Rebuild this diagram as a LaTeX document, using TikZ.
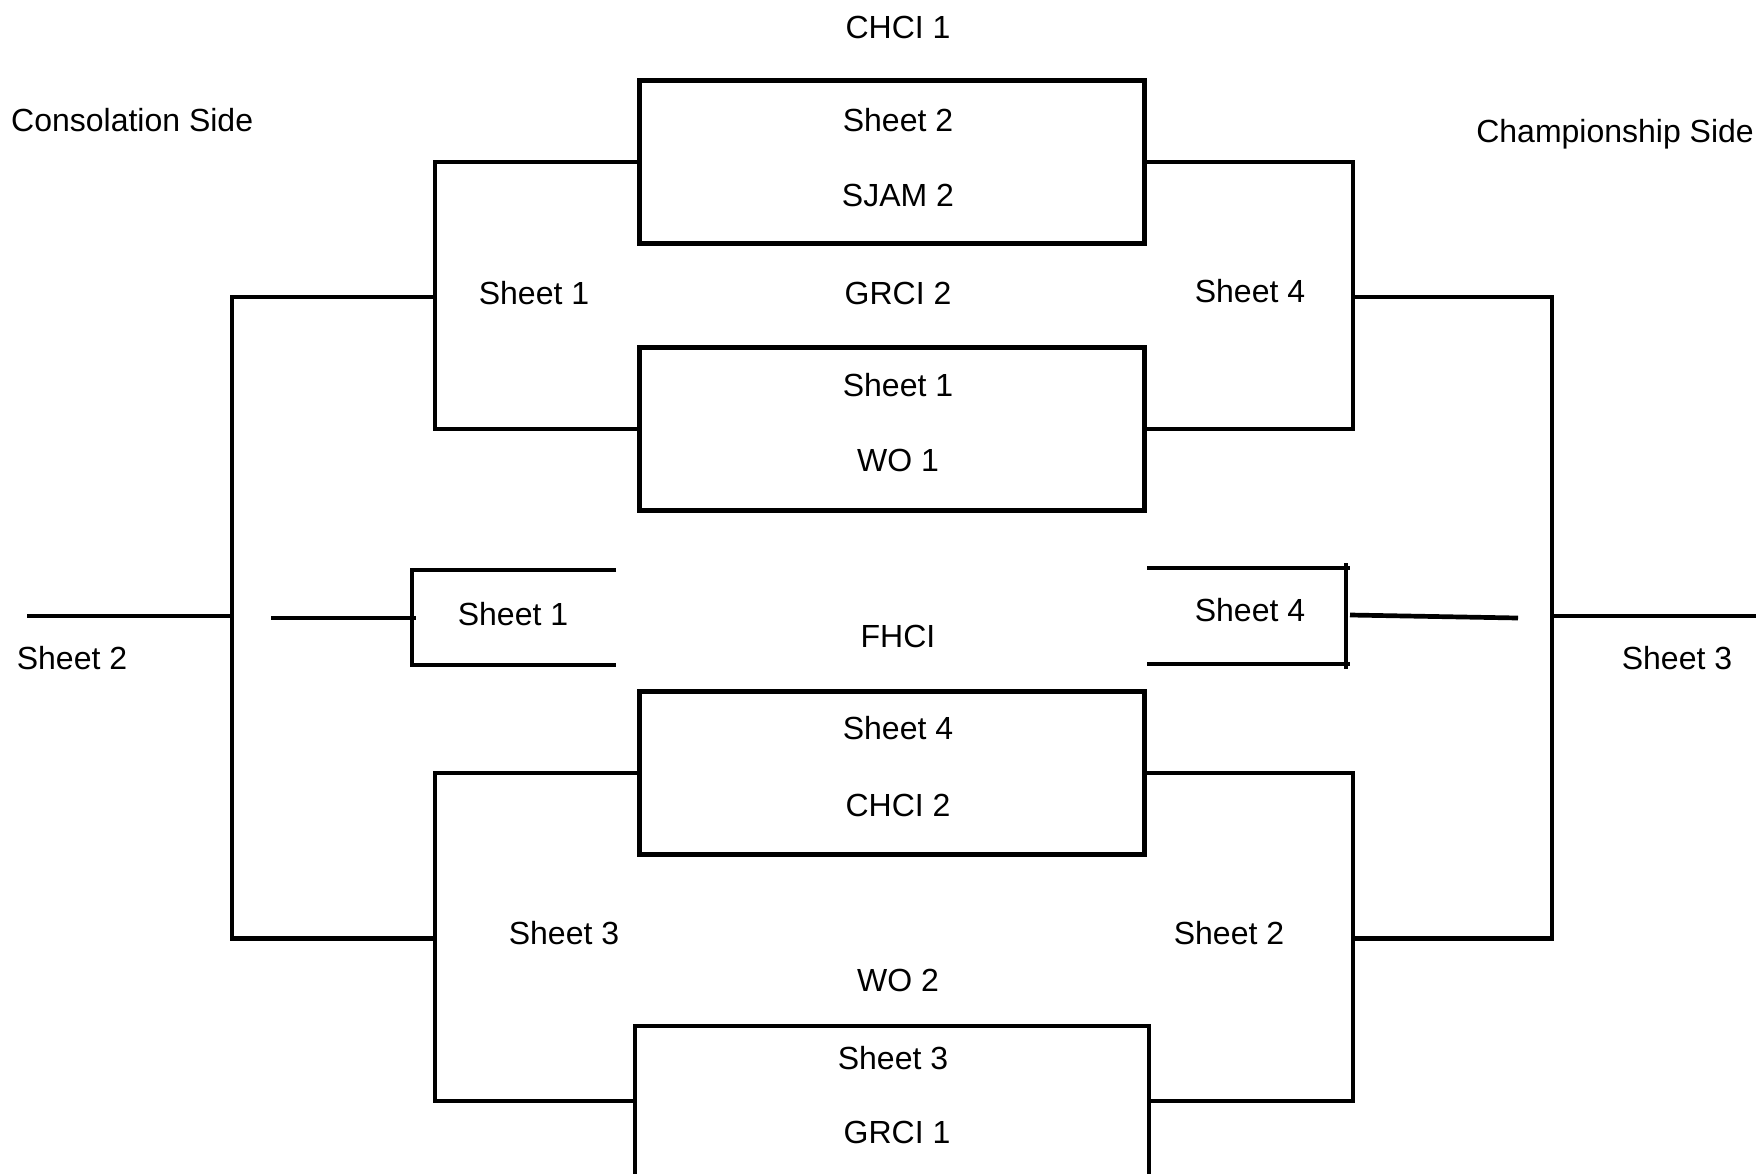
\documentclass[tikz,border=0pt]{standalone}
\usepackage{fontspec}
\setmainfont{Liberation Sans}
\begin{document}
\begin{tikzpicture}[x=1pt,y=-1pt,
  line/.style={line width=4.7pt},
  matchbox/.style={draw,line width=4.7pt,inner sep=0pt,minimum width=505pt,minimum height=163pt},
  lbl/.style={anchor=base,inner sep=0pt,font=\fontsize{32}{38}\selectfont}]
\useasboundingbox (0,0) rectangle (1756,1173);
\clip (0,0) rectangle (1756,1173);
% boxes
\node[matchbox] (b1) at (892,162) {};
\node[matchbox] (b2) at (892,429) {};
\node[matchbox] (b3) at (892,773) {};
\node[matchbox,minimum width=514pt,minimum height=150pt] (b4) at (892,1101) {};
% labels
\node[lbl] (tchci1) at (898,38.5) {CHCI 1};
\node[lbl,anchor=base west] (tcons) at (11,131.5) {Consolation Side};
\node[lbl,anchor=base east] (tchamp) at (1754,142.5) {Championship Side};
\node[lbl] (b1a) at (898,131.5) {Sheet 2};
\node[lbl] (b1b) at (898,206.5) {SJAM 2};
\node[lbl] (ls1) at (534,304.5) {Sheet 1};
\node[lbl] (tgrci2) at (898,304.5) {GRCI 2};
\node[lbl] (rs4) at (1250,302.5) {Sheet 4};
\node[lbl] (b2a) at (898,396.5) {Sheet 1};
\node[lbl] (b2b) at (898,471.5) {WO 1};
\node[lbl] (ms1) at (513,625.5) {Sheet 1};
\node[lbl] (tfhci) at (898,647.5) {FHCI};
\node[lbl] (ms4) at (1250,621.5) {Sheet 4};
\node[lbl] (fs2) at (72,669.5) {Sheet 2};
\node[lbl] (fs3) at (1677,669.5) {Sheet 3};
\node[lbl] (b3a) at (898,739.5) {Sheet 4};
\node[lbl] (b3b) at (898,816.5) {CHCI 2};
\node[lbl] (ls3) at (564,944.5) {Sheet 3};
\node[lbl] (rs2) at (1229,944.5) {Sheet 2};
\node[lbl] (two2) at (898,991.5) {WO 2};
\node[lbl] (b4a) at (893,1069.5) {Sheet 3};
\node[lbl] (b4b) at (897,1143.5) {GRCI 1};
% left side connectors
\coordinate (cl1) at (435,297);
\coordinate (cl2) at (435,938.6);
\coordinate (ol1) at (232,297);
\coordinate (ol2) at (232,938.6);
\coordinate (fl) at (27,616);
\draw[line] (b1.west) -| (cl1) |- (b2.west);
\draw[line] (b3.west) -| (cl2) |- (b4.west);
\draw[line] (cl1) -- (ol1) -- (ol2) -- (cl2);
\draw[line] (fl) -- (fl -| ol1);
% left middle bracket
\coordinate (mlt) at (616,570);
\coordinate (mlb) at (616,665);
\coordinate (mlv1) at (412,568);
\coordinate (mlv2) at (412,665);
\coordinate (mls) at (271,618);
\coordinate (mlj) at (416,618);
\draw[line] (mlt) -- (mlt -| mlv1) -- (mlv2) -- (mlb);
\draw[line] (mls) -- (mlj);
% right side connectors
\coordinate (cr1) at (1353,297);
\coordinate (cr2) at (1353,938.6);
\coordinate (or1) at (1552,297);
\coordinate (or2) at (1552,938.6);
\coordinate (fr) at (1756,616);
\draw[line] (b1.east) -| (cr1) |- (b2.east);
\draw[line] (b3.east) -| (cr2) |- (b4.east);
\draw[line] (cr1) -- (or1) -- (or2) -- (cr2);
\draw[line] (fr) -- (fr -| or1);
% right middle bracket
\coordinate (mrt) at (1147,568);
\coordinate (mrte) at (1350,568);
\coordinate (mrb) at (1147,664);
\coordinate (mrbe) at (1350,664);
\coordinate (mrv1) at (1346,563);
\coordinate (mrv2) at (1346,669);
\coordinate (mrj) at (1350,615);
\coordinate (mre) at (1518,618);
\draw[line] (mrt) -- (mrte);
\draw[line] (mrb) -- (mrbe);
\draw[line] (mrv1) -- (mrv2);
\draw[line] (mrj) -- (mre);
\end{tikzpicture}
\end{document}
